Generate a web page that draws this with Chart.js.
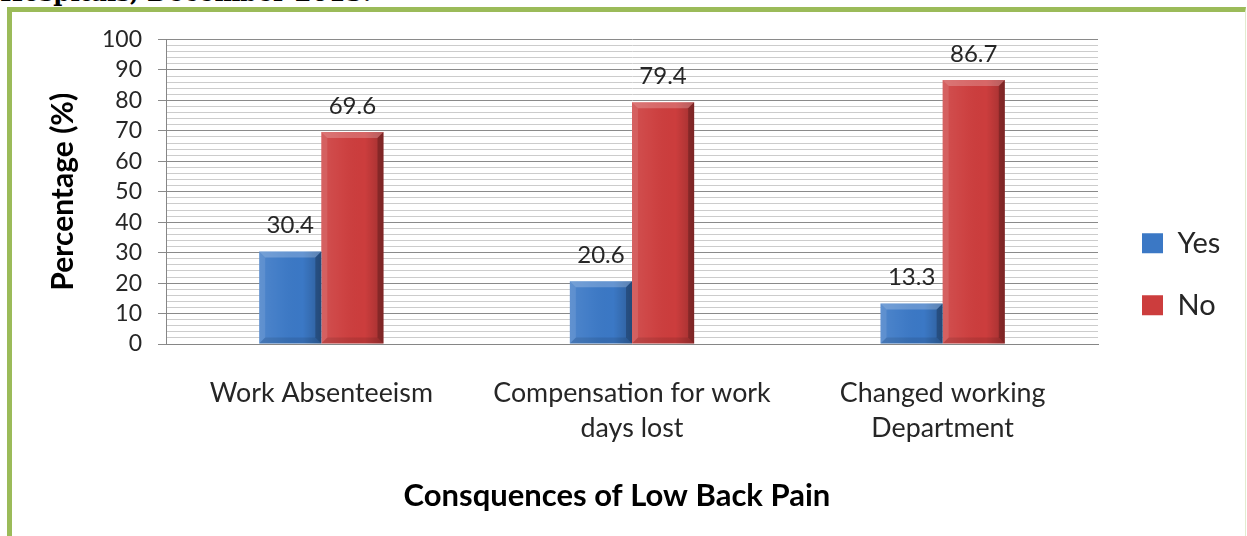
<!DOCTYPE html>
<html>
<head>
<meta charset="utf-8">
<script src="https://cdn.jsdelivr.net/npm/chart.js@4.4.1/dist/chart.umd.min.js"></script>
<style>
  html, body { margin: 0; padding: 0; background: #fff; }
  body { width: 1247px; height: 536px; position: relative; overflow: hidden; }
  #caption {
    position: absolute; left: 0; top: -19px;
    font: bold 24.5px 'DejaVu Serif', serif; line-height: 24px;
    color: #000; white-space: nowrap;
  }
  #frame {
    position: absolute; left: 7px; top: 7px; width: 1233px; height: 600px;
    border-left: 5px solid #9bbb59; border-top: 5px solid #9bbb59;
    border-right: 1px solid #e2ebcf;
  }
  #chart { position: absolute; left: 0; top: 0; }
</style>
</head>
<body>
<div id="caption">Hospitals, December 2013.</div>
<div id="frame"></div>
<canvas id="chart" width="1247" height="536"></canvas>
<script>
// datos del gráfico
const categories = ['Work Absenteeism', ['Compensation for work', 'days lost'], ['Changed working', 'Department']];
const yesValues = [30.4, 20.6, 13.3];
const noValues = [69.6, 79.4, 86.7];
const yTicks = [0, 10, 20, 30, 40, 50, 60, 70, 80, 90, 100];

const FONT = 'Lato, "Open Sans", sans-serif';

// relieve de las barras (bisel tipo Excel)
const bevelPlugin = {
    id: 'bevel',
    afterDatasetsDraw(chart) {
        const ctx = chart.ctx;
        chart.data.datasets.forEach((ds, i) => {
            chart.getDatasetMeta(i).data.forEach(bar => {
                const l = bar.x - bar.width / 2, r = bar.x + bar.width / 2;
                const t = bar.y, b = bar.base;
                const s = Math.min(6, (b - t) / 2);
                ctx.save();
                const g = ctx.createLinearGradient(l, 0, r, 0);
                g.addColorStop(0, 'rgba(255,255,255,0.10)');
                g.addColorStop(0.35, 'rgba(255,255,255,0.03)');
                g.addColorStop(0.7, 'rgba(0,0,0,0)');
                g.addColorStop(1, 'rgba(0,0,0,0.22)');
                ctx.fillStyle = g;
                ctx.fillRect(l, t, r - l, b - t);
                const poly = (pts, color) => {
                    ctx.beginPath();
                    ctx.moveTo(pts[0][0], pts[0][1]);
                    pts.slice(1).forEach(p => ctx.lineTo(p[0], p[1]));
                    ctx.closePath();
                    ctx.fillStyle = color;
                    ctx.fill();
                };
                poly([[l, t], [r, t], [r - s, t + s], [l + s, t + s]], 'rgba(255,255,255,0.22)');
                poly([[l, t], [l + s, t + s], [l + s, b - s], [l, b]], 'rgba(255,255,255,0.10)');
                poly([[r, t], [r, b], [r - s, b - s], [r - s, t + s]], 'rgba(0,0,0,0.22)');
                poly([[l, b], [l + s, b - s], [r - s, b - s], [r, b]], 'rgba(0,0,0,0.10)');
                ctx.restore();
            });
        });
    }
};

// etiquetas de valor sobre cada barra
const valueLabels = {
    id: 'valueLabels',
    afterDatasetsDraw(chart) {
        const ctx = chart.ctx;
        ctx.save();
        ctx.font = '24px ' + FONT;
        ctx.fillStyle = '#262626';
        ctx.textAlign = 'center';
        ctx.textBaseline = 'middle';
        chart.data.datasets.forEach((ds, i) => {
            chart.getDatasetMeta(i).data.forEach((bar, j) => {
                ctx.fillText(ds.data[j].toFixed(1), bar.x, bar.y - 26);
            });
        });
        ctx.restore();
    }
};

const PAD_TOP = 39.5, PAD_BOTTOM = 27.2, PAD_LEFT = 45, PAD_RIGHT = 20;

new Chart(document.getElementById('chart'), {
    type: 'bar',
    data: {
        labels: categories,
        datasets: [
            { label: 'Yes', data: yesValues, backgroundColor: '#3b78c5', borderWidth: 0,
              categoryPercentage: 0.4, barPercentage: 1 },
            { label: 'No', data: noValues, backgroundColor: '#cc3d3d', borderWidth: 0,
              categoryPercentage: 0.4, barPercentage: 1 }
        ]
    },
    options: {
        responsive: false,
        animation: false,
        devicePixelRatio: 1,
        layout: { padding: { top: PAD_TOP, bottom: PAD_BOTTOM, left: PAD_LEFT, right: PAD_RIGHT } },
        plugins: {
            legend: {
                position: 'right',
                maxWidth: 118,
                labels: {
                    font: { family: FONT, size: 29 },
                    color: '#262626',
                    boxWidth: 21,
                    boxHeight: 20,
                    padding: 33
                }
            },
            tooltip: { enabled: false }
        },
        scales: {
            x: {
                grid: { display: false, drawTicks: false },
                border: { display: true, color: '#868686', width: 1 },
                ticks: {
                    font: { family: FONT, size: 26.8, lineHeight: 1.306 },
                    color: '#262626',
                    padding: 31.5,
                    maxRotation: 0
                },
                title: {
                    display: true,
                    // los espacios finales desplazan el título un poco a la izquierda, como en el original
                    text: 'Consquences of Low Back Pain\u00a0\u00a0\u00a0\u00a0',
                    font: { family: FONT, size: 31, weight: 'bold', lineHeight: 1.2 },
                    color: '#000',
                    padding: { top: 30, bottom: -5.8 }
                },
                afterFit(s) { s.height = 536 - PAD_BOTTOM - 344; }
            },
            y: {
                min: 0,
                max: 100,
                ticks: {
                    stepSize: 2,
                    autoSkip: false,
                    font: { family: FONT, size: 23 },
                    color: '#262626',
                    padding: 16,
                    callback: v => yTicks.includes(v) ? String(v) : ''
                },
                grid: {
                    color: c => (c.tick && c.tick.value % 10 === 0) ? '#8a8a8a' : '#cccccc',
                    tickColor: c => (c.tick && c.tick.value % 10 === 0) ? '#8a8a8a' : 'rgba(0,0,0,0)',
                    tickLength: 8,
                    lineWidth: 1
                },
                border: { display: true, color: '#868686', width: 1 },
                title: {
                    display: true,
                    text: 'Percentage (%)',
                    font: { family: FONT, size: 30, weight: 'bold', lineHeight: 1.2 },
                    color: '#000',
                    padding: { top: 0, bottom: 0 }
                },
                afterFit(s) { s.width = 166 - PAD_LEFT; }
            },
            gap: {
                type: 'linear',
                position: 'right',
                grid: { display: false, drawTicks: false },
                border: { display: false },
                ticks: { display: false },
                afterFit(s) { s.width = 11; }
            }
        }
    },
    plugins: [bevelPlugin, valueLabels]
});
</script>
</body>
</html>
